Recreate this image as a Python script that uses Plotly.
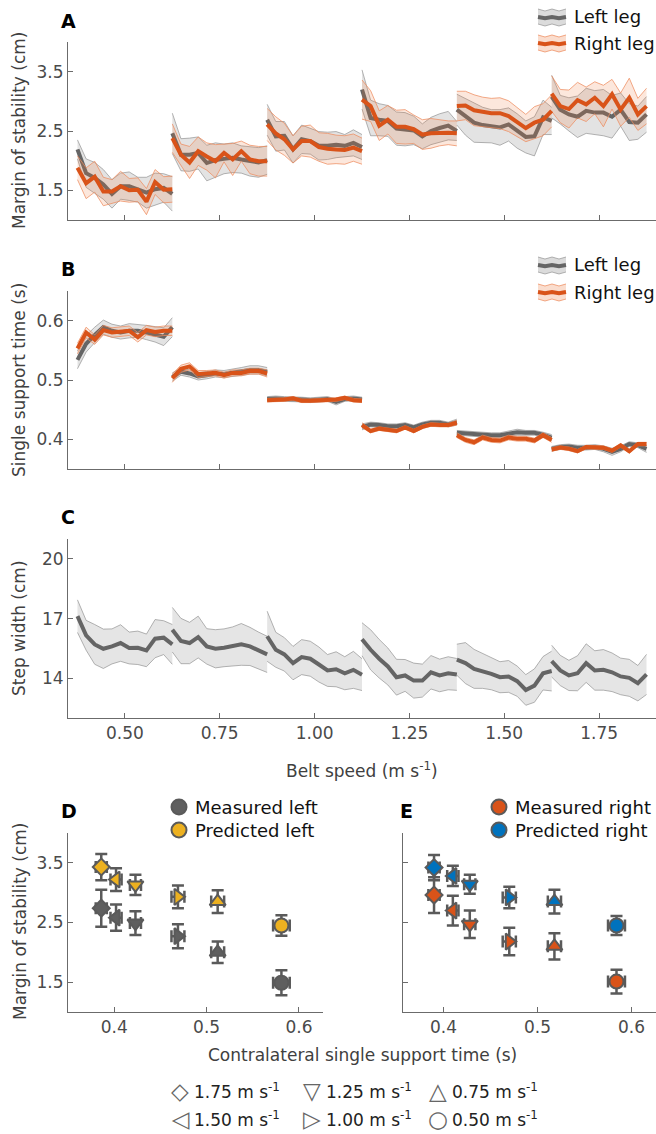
import plotly.graph_objects as go

W, H = 656, 1134
FONT = "DejaVu Sans"

# ---------------- data ----------------
speeds = [0.50, 0.75, 1.00, 1.25, 1.50, 1.75]
n_strides = 12

# Panel A: margin of stability (cm), mean and sd per stride, per speed block
mos_left_mean = [
    [2.19, 1.79, 1.71, 1.60, 1.44, 1.57, 1.57, 1.51, 1.46, 1.52, 1.54, 1.44],
    [2.46, 2.10, 2.10, 2.13, 1.96, 2.01, 2.03, 2.05, 2.02, 1.99, 1.97, 2.01],
    [2.69, 2.41, 2.42, 2.19, 2.36, 2.33, 2.25, 2.25, 2.27, 2.25, 2.30, 2.23],
    [3.20, 2.72, 2.69, 2.67, 2.54, 2.53, 2.51, 2.41, 2.50, 2.55, 2.59, 2.50],
    [2.86, 2.74, 2.64, 2.60, 2.58, 2.56, 2.61, 2.50, 2.40, 2.41, 2.73, 2.67],
    [3.08, 2.86, 2.78, 2.74, 2.84, 2.81, 2.81, 2.74, 2.86, 2.65, 2.64, 2.78],
]
mos_left_sd = [
    [0.16, 0.24, 0.26, 0.25, 0.24, 0.22, 0.24, 0.21, 0.26, 0.27, 0.24, 0.29],
    [0.34, 0.27, 0.28, 0.27, 0.30, 0.29, 0.25, 0.25, 0.23, 0.25, 0.25, 0.24],
    [0.26, 0.25, 0.24, 0.23, 0.24, 0.22, 0.24, 0.23, 0.22, 0.19, 0.22, 0.21],
    [0.33, 0.30, 0.27, 0.26, 0.28, 0.28, 0.24, 0.21, 0.23, 0.24, 0.24, 0.16],
    [0.26, 0.31, 0.33, 0.30, 0.28, 0.30, 0.28, 0.29, 0.27, 0.33, 0.29, 0.23],
    [0.36, 0.24, 0.28, 0.35, 0.38, 0.37, 0.39, 0.36, 0.28, 0.31, 0.28, 0.30],
]
mos_right_mean = [
    [1.88, 1.62, 1.73, 1.48, 1.48, 1.57, 1.50, 1.51, 1.31, 1.64, 1.51, 1.52],
    [2.38, 2.10, 1.97, 2.16, 2.07, 1.99, 2.13, 2.02, 2.16, 2.02, 1.99, 1.99],
    [2.61, 2.46, 2.36, 2.19, 2.33, 2.33, 2.23, 2.20, 2.19, 2.18, 2.22, 2.16],
    [3.03, 2.92, 2.59, 2.69, 2.57, 2.57, 2.53, 2.44, 2.46, 2.47, 2.47, 2.46],
    [2.92, 2.93, 2.85, 2.82, 2.80, 2.80, 2.75, 2.65, 2.55, 2.64, 2.69, 2.84],
    [3.13, 2.92, 2.87, 3.02, 2.95, 3.06, 2.92, 3.12, 2.86, 3.06, 2.78, 2.92],
]
mos_right_sd = [
    [0.20, 0.26, 0.26, 0.24, 0.20, 0.25, 0.20, 0.20, 0.22, 0.21, 0.22, 0.22],
    [0.24, 0.18, 0.27, 0.24, 0.23, 0.28, 0.15, 0.27, 0.17, 0.24, 0.25, 0.25],
    [0.27, 0.28, 0.27, 0.23, 0.25, 0.27, 0.24, 0.26, 0.24, 0.24, 0.23, 0.22],
    [0.33, 0.26, 0.25, 0.24, 0.28, 0.29, 0.24, 0.25, 0.25, 0.22, 0.20, 0.21],
    [0.25, 0.24, 0.26, 0.25, 0.25, 0.26, 0.26, 0.25, 0.23, 0.27, 0.27, 0.27],
    [0.30, 0.28, 0.32, 0.30, 0.29, 0.27, 0.35, 0.25, 0.28, 0.33, 0.27, 0.30],
]

# Panel B: single support time (s)
sst_left_mean = [
    [0.534, 0.561, 0.576, 0.589, 0.583, 0.580, 0.583, 0.583, 0.580, 0.577, 0.573, 0.589],
    [0.505, 0.514, 0.511, 0.506, 0.508, 0.511, 0.510, 0.512, 0.514, 0.517, 0.517, 0.514],
    [0.468, 0.469, 0.468, 0.468, 0.467, 0.466, 0.467, 0.468, 0.463, 0.468, 0.469, 0.467],
    [0.421, 0.425, 0.424, 0.422, 0.422, 0.424, 0.420, 0.425, 0.428, 0.428, 0.425, 0.429],
    [0.411, 0.410, 0.408, 0.408, 0.407, 0.407, 0.410, 0.412, 0.411, 0.411, 0.408, 0.403],
    [0.384, 0.387, 0.388, 0.386, 0.386, 0.387, 0.384, 0.379, 0.384, 0.392, 0.390, 0.384],
]
sst_left_sd = [
    [0.015, 0.014, 0.013, 0.012, 0.011, 0.011, 0.012, 0.011, 0.012, 0.013, 0.015, 0.016],
    [0.007, 0.006, 0.006, 0.006, 0.006, 0.006, 0.006, 0.006, 0.007, 0.007, 0.007, 0.007],
    [0.004, 0.004, 0.004, 0.004, 0.004, 0.004, 0.004, 0.004, 0.005, 0.004, 0.004, 0.004],
    [0.005, 0.004, 0.004, 0.004, 0.004, 0.004, 0.004, 0.004, 0.004, 0.004, 0.004, 0.005],
    [0.004, 0.004, 0.004, 0.004, 0.004, 0.004, 0.004, 0.005, 0.004, 0.004, 0.004, 0.005],
    [0.004, 0.004, 0.004, 0.004, 0.004, 0.004, 0.005, 0.006, 0.005, 0.004, 0.004, 0.006],
]
sst_right_mean = [
    [0.553, 0.580, 0.568, 0.584, 0.580, 0.581, 0.583, 0.572, 0.584, 0.581, 0.583, 0.583],
    [0.503, 0.519, 0.523, 0.510, 0.511, 0.512, 0.508, 0.512, 0.512, 0.515, 0.515, 0.511],
    [0.466, 0.466, 0.467, 0.469, 0.465, 0.465, 0.466, 0.467, 0.467, 0.470, 0.466, 0.465],
    [0.424, 0.414, 0.418, 0.416, 0.414, 0.420, 0.414, 0.421, 0.425, 0.424, 0.424, 0.428],
    [0.407, 0.399, 0.395, 0.403, 0.399, 0.398, 0.403, 0.401, 0.401, 0.398, 0.407, 0.399],
    [0.383, 0.386, 0.384, 0.380, 0.387, 0.386, 0.386, 0.381, 0.390, 0.380, 0.392, 0.392],
]
sst_right_sd = [
    [0.009, 0.009, 0.008, 0.008, 0.008, 0.008, 0.008, 0.008, 0.008, 0.008, 0.008, 0.008],
    [0.007, 0.006, 0.006, 0.006, 0.005, 0.005, 0.005, 0.005, 0.005, 0.005, 0.005, 0.006],
    [0.003, 0.003, 0.003, 0.003, 0.003, 0.003, 0.003, 0.003, 0.003, 0.003, 0.003, 0.003],
    [0.004, 0.003, 0.003, 0.003, 0.003, 0.003, 0.003, 0.003, 0.003, 0.003, 0.003, 0.004],
    [0.004, 0.004, 0.004, 0.004, 0.004, 0.004, 0.004, 0.004, 0.004, 0.004, 0.004, 0.004],
    [0.003, 0.003, 0.003, 0.003, 0.003, 0.003, 0.003, 0.003, 0.003, 0.003, 0.003, 0.003],
]

# Panel C: step width (cm)
sw_mean = [
    [17.12, 16.16, 15.70, 15.48, 15.60, 15.77, 15.52, 15.53, 15.40, 15.99, 16.04, 15.70],
    [16.44, 15.87, 15.77, 16.07, 15.60, 15.48, 15.53, 15.60, 15.70, 15.60, 15.40, 15.20],
    [16.11, 15.43, 15.20, 14.76, 15.06, 14.98, 14.69, 14.39, 14.45, 14.25, 14.42, 14.18],
    [15.96, 15.43, 14.98, 14.59, 14.05, 14.14, 13.88, 13.88, 14.30, 14.14, 14.25, 14.19],
    [14.93, 14.76, 14.47, 14.36, 14.22, 14.05, 14.09, 13.85, 13.41, 13.63, 14.25, 14.36],
    [14.86, 14.39, 14.14, 14.25, 14.76, 14.39, 14.42, 14.30, 14.09, 14.02, 13.75, 14.19],
]
sw_sd = [
    [0.82, 0.75, 1.00, 0.99, 0.88, 0.92, 0.80, 0.84, 0.82, 0.96, 0.85, 1.00],
    [1.12, 1.14, 1.04, 1.05, 0.89, 0.96, 0.95, 0.98, 1.05, 0.96, 0.92, 0.91],
    [1.26, 0.88, 0.84, 0.84, 0.88, 0.88, 0.88, 0.80, 0.88, 0.83, 0.93, 0.80],
    [0.83, 1.01, 0.97, 0.93, 0.90, 0.80, 0.88, 0.83, 0.84, 0.82, 0.83, 0.80],
    [0.78, 1.03, 0.98, 0.87, 0.80, 0.78, 0.80, 0.76, 0.77, 0.84, 0.84, 1.00],
    [0.80, 0.76, 0.76, 0.88, 0.97, 0.99, 1.02, 0.97, 0.92, 0.93, 0.89, 1.01],
]

# Panels D and E: speed order 1.75, 1.50, 1.25, 1.00, 0.75, 0.50
de_speed_labels = ["1.75", "1.50", "1.25", "1.00", "0.75", "0.50"]
de_symbols = ["diamond", "triangle-left", "triangle-down", "triangle-right", "triangle-up", "circle"]

d_sst = [0.386, 0.402, 0.423, 0.469, 0.512, 0.581]
d_sst_err = [0.006, 0.006, 0.006, 0.007, 0.007, 0.009]
d_measured = [2.74, 2.58, 2.49, 2.27, 2.00, 1.49]
d_measured_err = [0.31, 0.22, 0.20, 0.20, 0.18, 0.21]
d_predicted = [3.43, 3.22, 3.13, 2.93, 2.85, 2.45]
d_predicted_err = [0.22, 0.19, 0.17, 0.19, 0.19, 0.17]

e_sst = [0.390, 0.410, 0.428, 0.470, 0.518, 0.584]
e_sst_err = [0.006, 0.006, 0.006, 0.007, 0.007, 0.009]
e_measured = [2.96, 2.70, 2.47, 2.18, 2.10, 1.51]
e_measured_err = [0.30, 0.25, 0.23, 0.23, 0.22, 0.20]
e_predicted = [3.42, 3.28, 3.14, 2.92, 2.85, 2.45]
e_predicted_err = [0.21, 0.17, 0.16, 0.18, 0.20, 0.16]

# ---------------- styles ----------------
GRAY_LINE = "#656565"
GRAY_FILL = "rgba(175,175,175,0.35)"
GRAY_EDGE = "rgba(140,140,140,0.65)"
ORANGE = "#D95319"
ORANGE_FILL = "rgba(236,120,60,0.18)"
ORANGE_EDGE = "rgba(238,140,95,0.75)"
YELLOW = "#EDB120"
BLUE = "#0072BD"
MEAS_GRAY = "#5f5f5f"
EDGE = "#5a5a5a"
AXIS = "#6b6b6b"
TICKC = "#4a4a4a"


def px(x):
    return x / W


def py(y):
    return 1 - y / H


def stride_x(s):
    return [s - 0.125 + i * 0.25 / (n_strides - 1) for i in range(n_strides)]


fig = go.Figure()


def add_band(xa, ya, means, sds, line_c, fill_c, edge_c):
    xp, yp, xu, yu, xl, yl, xm, ym = [], [], [], [], [], [], [], []
    for s, m, sd in zip(speeds, means, sds):
        xs = stride_x(s)
        up = [a + b for a, b in zip(m, sd)]
        lo = [a - b for a, b in zip(m, sd)]
        xp += xs + xs[::-1] + [None]
        yp += up + lo[::-1] + [None]
        xu += xs + [None]
        yu += up + [None]
        xl += xs + [None]
        yl += lo + [None]
        xm += xs + [None]
        ym += m + [None]
    common = dict(xaxis=xa, yaxis=ya, showlegend=False, hoverinfo="skip", mode="lines")
    fig.add_trace(go.Scatter(x=xp, y=yp, fill="toself", fillcolor=fill_c,
                             line=dict(width=0), **common))
    fig.add_trace(go.Scatter(x=xu, y=yu, line=dict(color=edge_c, width=1), **common))
    fig.add_trace(go.Scatter(x=xl, y=yl, line=dict(color=edge_c, width=1), **common))
    fig.add_trace(go.Scatter(x=xm, y=ym, line=dict(color=line_c, width=4), **common))


# Panel A
add_band("x", "y", mos_left_mean, mos_left_sd, GRAY_LINE, GRAY_FILL, GRAY_EDGE)
add_band("x", "y", mos_right_mean, mos_right_sd, ORANGE, ORANGE_FILL, ORANGE_EDGE)
# Panel B
add_band("x2", "y2", sst_left_mean, sst_left_sd, GRAY_LINE, GRAY_FILL, GRAY_EDGE)
add_band("x2", "y2", sst_right_mean, sst_right_sd, ORANGE, ORANGE_FILL, ORANGE_EDGE)
# Panel C
add_band("x3", "y3", sw_mean, sw_sd, GRAY_LINE, "rgba(175,175,175,0.32)", GRAY_EDGE)


def add_points(xa, ya, xs, xerr, ys, yerr, fill):
    for i in range(len(xs)):
        fig.add_trace(go.Scatter(
            x=[xs[i]], y=[ys[i]], xaxis=xa, yaxis=ya, mode="markers",
            showlegend=False, hoverinfo="skip",
            marker=dict(symbol=de_symbols[i], size=14 if de_symbols[i] != "diamond" else 13,
                        color=fill, line=dict(color=EDGE, width=2)),
            error_y=dict(type="data", array=[yerr[i]], color=EDGE, thickness=2.5, width=6),
            error_x=dict(type="data", array=[xerr[i]], color=EDGE, thickness=2.5, width=6),
        ))


add_points("x4", "y4", d_sst, d_sst_err, d_measured, d_measured_err, MEAS_GRAY)
add_points("x4", "y4", d_sst, d_sst_err, d_predicted, d_predicted_err, YELLOW)
add_points("x5", "y5", e_sst, e_sst_err, e_measured, e_measured_err, ORANGE)
add_points("x5", "y5", e_sst, e_sst_err, e_predicted, e_predicted_err, BLUE)

# ---------------- axes ----------------
tickfont = dict(family=FONT, size=17, color=TICKC)
base = dict(showline=True, linecolor=AXIS, linewidth=1, ticks="inside", ticklen=5,
            tickcolor=AXIS, tickwidth=1, showgrid=False, zeroline=False,
            tickfont=tickfont, fixedrange=True)

speed_ticks = [0.50, 0.75, 1.00, 1.25, 1.50, 1.75]
speed_ticktext = ["0.50", "0.75", "1.00", "1.25", "1.50", "1.75"]

layout_axes = dict(
    xaxis=dict(base, domain=[px(68), 1.0], range=[0.35, 1.9], tickvals=speed_ticks,
               showticklabels=False, anchor="y"),
    yaxis=dict(base, domain=[py(220), py(42)], range=[1, 4], tickvals=[1.5, 2.5, 3.5],
               ticktext=["1.5", "2.5", "3.5"], anchor="x"),
    xaxis2=dict(base, domain=[px(68), 1.0], range=[0.35, 1.9], tickvals=speed_ticks,
                showticklabels=False, anchor="y2"),
    yaxis2=dict(base, domain=[py(469), py(291)], range=[0.35, 0.65], tickvals=[0.4, 0.5, 0.6],
                ticktext=["0.4", "0.5", "0.6"], anchor="x2"),
    xaxis3=dict(base, domain=[px(68), 1.0], range=[0.35, 1.9], tickvals=speed_ticks,
                ticktext=speed_ticktext, anchor="y3"),
    yaxis3=dict(base, domain=[py(718), py(539)], range=[12, 21], tickvals=[14, 17, 20],
                ticktext=["14", "17", "20"], anchor="x3"),
    xaxis4=dict(base, domain=[px(68), px(323)], range=[0.35, 0.626], tickvals=[0.4, 0.5, 0.6],
                ticktext=["0.4", "0.5", "0.6"], anchor="y4"),
    yaxis4=dict(base, domain=[py(1012), py(833)], range=[1, 4], tickvals=[1.5, 2.5, 3.5],
                ticktext=["1.5", "2.5", "3.5"], anchor="x4"),
    xaxis5=dict(base, domain=[px(403), 1.0], range=[0.357, 0.626], tickvals=[0.4, 0.5, 0.6],
                ticktext=["0.4", "0.5", "0.6"], anchor="y5"),
    yaxis5=dict(base, domain=[py(1012), py(833)], range=[1, 4], tickvals=[1.5, 2.5, 3.5],
                showticklabels=False, anchor="x5"),
)

annotations = []
shapes = []


def text(x, y, s, size=17, color="#404040", angle=0, xanchor="center", bold=False):
    annotations.append(dict(
        x=px(x), y=py(y), xref="paper", yref="paper", text=("<b>%s</b>" % s) if bold else s,
        showarrow=False, textangle=angle, xanchor=xanchor, yanchor="middle",
        font=dict(family=FONT, size=size, color=color)))


# panel letters
text(68, 21, "A", size=19, color="#000000", bold=True)
text(68, 269, "B", size=19, color="#000000", bold=True)
text(68, 517, "C", size=19, color="#000000", bold=True)
text(69, 811, "D", size=19, color="#000000", bold=True)
text(406, 811, "E", size=19, color="#000000", bold=True)

# axis titles
text(19, 131, "Margin of stability (cm)", angle=-90)
text(19, 380, "Single support time (s)", angle=-90)
text(19, 628, "Step width (cm)", angle=-90)
text(20, 922, "Margin of stability (cm)", angle=-90)
text(362, 770, "Belt speed (m s<sup>-1</sup>)")
text(362, 1055, "Contralateral single support time (s)")


# legends for A and B
def band_icon(yc, line_c, fill_c, edge_c):
    xs = [538, 545, 552, 559, 566]
    wav = [0, 2, 0, 2, 0]
    up = [(x, yc - 8 + w) for x, w in zip(xs, wav)]
    lo = [(x, yc + 7 + w) for x, w in zip(xs, wav)]
    mid = [(x, yc + w * 0.6) for x, w in zip(xs, wav)]

    def path(pts, close=False):
        p = "M " + " L ".join("%.5f,%.5f" % (px(a), py(b)) for a, b in pts)
        return p + (" Z" if close else "")

    shapes.append(dict(type="path", xref="paper", yref="paper", path=path(up + lo[::-1], True),
                       fillcolor=fill_c, line=dict(width=0)))
    shapes.append(dict(type="path", xref="paper", yref="paper", path=path(up),
                       line=dict(color=edge_c, width=1)))
    shapes.append(dict(type="path", xref="paper", yref="paper", path=path(lo),
                       line=dict(color=edge_c, width=1)))
    shapes.append(dict(type="path", xref="paper", yref="paper", path=path(mid),
                       line=dict(color=line_c, width=4)))


for (yl, yr) in [(17, 43), (265, 292)]:
    band_icon(yl, GRAY_LINE, "rgba(175,175,175,0.45)", GRAY_EDGE)
    band_icon(yr, ORANGE, "rgba(236,120,60,0.25)", ORANGE_EDGE)
    text(572, yl, "Left leg", size=18, color="#111111", xanchor="left")
    text(572, yr, "Right leg", size=18, color="#111111", xanchor="left")


# legends for D and E
def dot(x, y, fill):
    shapes.append(dict(type="circle", xref="paper", yref="paper", xsizemode="pixel",
                       ysizemode="pixel", xanchor=px(x), yanchor=py(y), x0=-7.5, x1=7.5,
                       y0=-7.5, y1=7.5, fillcolor=fill, line=dict(color=EDGE, width=2)))


dot(179, 807, MEAS_GRAY)
dot(179, 830, YELLOW)
text(193, 807, "Measured left", size=18, color="#111111", xanchor="left")
text(193, 830, "Predicted left", size=18, color="#111111", xanchor="left")
dot(499, 807, ORANGE)
dot(499, 830, BLUE)
text(513, 807, "Measured right", size=18, color="#111111", xanchor="left")
text(513, 830, "Predicted right", size=18, color="#111111", xanchor="left")

# bottom speed-symbol legend
legend_glyphs = {"1.75": "\u25C7", "1.25": "\u25BD", "0.75": "\u25B3",
                 "1.50": "\u25C1", "1.00": "\u25B7", "0.50": "\u25CB"}
legend_rows = [["1.75", "1.25", "0.75"], ["1.50", "1.00", "0.50"]]
col_x = [180, 312, 438]
row_y = [1091, 1119]
for r, row in enumerate(legend_rows):
    for c, lab in enumerate(row):
        text(col_x[c], row_y[r], legend_glyphs[lab], size=23, color="#666666")
        text(col_x[c] + 12, row_y[r], "%s m s<sup>-1</sup>" % lab, size=17,
             color="#222222", xanchor="left")

fig.update_layout(
    width=W, height=H, autosize=False,
    margin=dict(l=0, r=0, t=0, b=0),
    paper_bgcolor="white", plot_bgcolor="rgba(0,0,0,0)",
    showlegend=False,
    annotations=annotations, shapes=shapes,
    font=dict(family=FONT),
    **layout_axes,
)

fig.write_html(
    "out.html",
    config={"displayModeBar": False, "staticPlot": True},
    post_script="document.body.style.margin='0px';document.body.style.padding='0px';"
                "document.body.style.overflow='hidden';",
)
